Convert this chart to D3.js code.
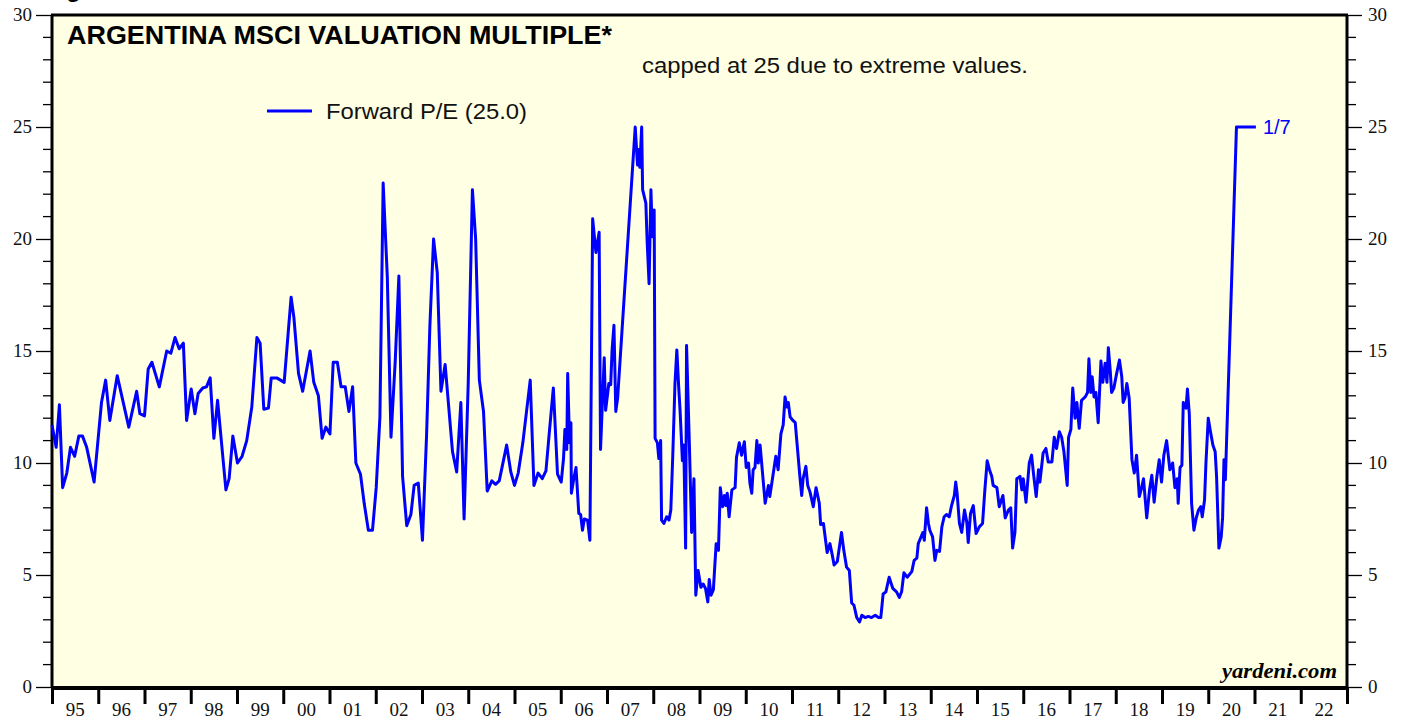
<!DOCTYPE html>
<html>
<head>
<meta charset="utf-8">
<script src="https://cdn.jsdelivr.net/npm/d3@7"></script>
<style>
  body { margin: 0; background: #fff; }
  svg { display: block; }
</style>
</head>
<body>
<svg id="chart" width="1407" height="719"></svg>
<script>
// decimal year of each reading
var dates = [
  1995.00, 1995.09, 1995.16, 1995.23, 1995.32, 1995.40, 1995.49, 1995.58, 1995.66, 1995.75,
  1995.91, 1996.07, 1996.16, 1996.25, 1996.41, 1996.66, 1996.83, 1996.90, 1997.00, 1997.08,
  1997.16, 1997.32, 1997.48, 1997.57, 1997.66, 1997.75, 1997.84, 1997.91, 1998.01, 1998.09,
  1998.16, 1998.26, 1998.34, 1998.42, 1998.50, 1998.58, 1998.76, 1998.83, 1998.91, 1999.01,
  1999.11, 1999.21, 1999.32, 1999.43, 1999.50, 1999.58, 1999.68, 1999.74, 1999.86, 2000.02,
  2000.11, 2000.17, 2000.23, 2000.33, 2000.42, 2000.58, 2000.66, 2000.76, 2000.84, 2000.92,
  2001.01, 2001.08, 2001.17, 2001.25, 2001.34, 2001.42, 2001.50, 2001.57, 2001.67, 2001.75,
  2001.84, 2001.93, 2002.01, 2002.09, 2002.16, 2002.25, 2002.33, 2002.42, 2002.50, 2002.58,
  2002.67, 2002.76, 2002.83, 2002.92, 2003.01, 2003.10, 2003.17, 2003.25, 2003.33, 2003.41,
  2003.50, 2003.66, 2003.75, 2003.84, 2003.91, 2004.00, 2004.09, 2004.16, 2004.24, 2004.33,
  2004.41, 2004.51, 2004.59, 2004.67, 2004.83, 2004.92, 2005.00, 2005.08, 2005.18, 2005.34,
  2005.42, 2005.51, 2005.60, 2005.68, 2005.75, 2005.84, 2005.93, 2006.01, 2006.06, 2006.09,
  2006.13, 2006.15, 2006.19, 2006.22, 2006.23, 2006.29, 2006.33, 2006.39, 2006.43, 2006.47,
  2006.51, 2006.58, 2006.63, 2006.69, 2006.76, 2006.83, 2006.86, 2006.94, 2006.97, 2007.04,
  2007.08, 2007.11, 2007.15, 2007.19, 2007.23, 2007.61, 2007.66, 2007.69, 2007.71, 2007.75,
  2007.77, 2007.84, 2007.87, 2007.91, 2007.95, 2007.98, 2008.02, 2008.04, 2008.09, 2008.12,
  2008.16, 2008.18, 2008.23, 2008.29, 2008.34, 2008.38, 2008.42, 2008.47, 2008.51, 2008.55,
  2008.58, 2008.63, 2008.66, 2008.70, 2008.72, 2008.78, 2008.83, 2008.88, 2008.92, 2008.97,
  2009.03, 2009.08, 2009.13, 2009.18, 2009.21, 2009.25, 2009.30, 2009.36, 2009.41, 2009.45,
  2009.50, 2009.54, 2009.57, 2009.60, 2009.64, 2009.70, 2009.77, 2009.80, 2009.86, 2009.91,
  2009.97, 2010.01, 2010.06, 2010.09, 2010.13, 2010.16, 2010.20, 2010.24, 2010.27, 2010.31,
  2010.42, 2010.49, 2010.52, 2010.65, 2010.70, 2010.76, 2010.81, 2010.85, 2010.89, 2010.92,
  2010.96, 2011.02, 2011.07, 2011.17, 2011.21, 2011.24, 2011.30, 2011.34, 2011.39, 2011.46,
  2011.52, 2011.59, 2011.62, 2011.68, 2011.76, 2011.82, 2011.87, 2011.91, 2011.98, 2012.07,
  2012.12, 2012.18, 2012.24, 2012.29, 2012.34, 2012.40, 2012.46, 2012.51, 2012.58, 2012.65,
  2012.72, 2012.80, 2012.87, 2012.92, 2012.97, 2013.03, 2013.10, 2013.18, 2013.26, 2013.32,
  2013.37, 2013.42, 2013.49, 2013.59, 2013.64, 2013.70, 2013.73, 2013.78, 2013.83, 2013.86,
  2013.91, 2013.95, 2013.98, 2014.04, 2014.09, 2014.13, 2014.19, 2014.24, 2014.29, 2014.34,
  2014.40, 2014.45, 2014.51, 2014.54, 2014.57, 2014.62, 2014.67, 2014.73, 2014.78, 2014.81,
  2014.86, 2014.92, 2014.98, 2015.05, 2015.12, 2015.17, 2015.22, 2015.27, 2015.32, 2015.35,
  2015.43, 2015.48, 2015.56, 2015.61, 2015.68, 2015.73, 2015.77, 2015.82, 2015.86, 2015.93,
  2015.97, 2016.00, 2016.06, 2016.13, 2016.18, 2016.22, 2016.28, 2016.33, 2016.36, 2016.43,
  2016.49, 2016.54, 2016.62, 2016.67, 2016.72, 2016.78, 2016.83, 2016.88, 2016.95, 2016.98,
  2017.03, 2017.07, 2017.12, 2017.16, 2017.21, 2017.26, 2017.34, 2017.39, 2017.42, 2017.46,
  2017.49, 2017.53, 2017.57, 2017.62, 2017.68, 2017.72, 2017.77, 2017.81, 2017.84, 2017.88,
  2017.91, 2017.96, 2018.01, 2018.08, 2018.13, 2018.16, 2018.20, 2018.24, 2018.29, 2018.35,
  2018.40, 2018.45, 2018.51, 2018.56, 2018.60, 2018.67, 2018.73, 2018.78, 2018.83, 2018.89,
  2018.94, 2018.99, 2019.04, 2019.10, 2019.17, 2019.23, 2019.28, 2019.33, 2019.35, 2019.39,
  2019.43, 2019.46, 2019.52, 2019.55, 2019.59, 2019.64, 2019.69, 2019.74, 2019.79, 2019.84,
  2019.87, 2019.92, 2019.95, 2020.00, 2020.04, 2020.10, 2020.15, 2020.18, 2020.23, 2020.28,
  2020.31, 2020.34, 2020.37, 2020.61, 2021.03
];

// forward P/E, capped at 25
var forwardPE = [
  11.7, 10.7, 12.6, 8.9, 9.55, 10.7, 10.3, 11.2, 11.2, 10.7,
  9.15, 12.7, 13.7, 11.9, 13.9, 11.6, 13.2, 12.2, 12.1, 14.2,
  14.5, 13.4, 15.0, 14.9, 15.6, 15.1, 15.35, 11.9, 13.3, 12.2,
  13.1, 13.35, 13.4, 13.8, 11.1, 12.8, 8.8, 9.3, 11.2, 10.0,
  10.3, 11.0, 12.5, 15.6, 15.35, 12.4, 12.45, 13.8, 13.8, 13.6,
  15.9, 17.4, 16.5, 14.0, 13.2, 15.0, 13.6, 13.0, 11.1, 11.6,
  11.3, 14.5, 14.5, 13.4, 13.4, 12.3, 13.4, 10.0, 9.5, 8.2,
  7.0, 7.0, 8.9, 12.05, 22.5, 18.3, 11.15, 14.5, 18.35, 9.4,
  7.2, 7.7, 9.0, 9.1, 6.55, 11.3, 16.1, 20.0, 18.5, 13.2,
  14.4, 10.5, 9.6, 12.7, 7.5, 13.6, 22.2, 20.0, 13.7, 12.3,
  8.75, 9.2, 9.05, 9.2, 10.8, 9.6, 9.0, 9.55, 10.9, 13.7,
  9.0, 9.55, 9.3, 9.65, 11.3, 13.35, 9.5, 9.15, 10.2, 11.5,
  10.6, 14.0, 10.9, 11.8, 8.65, 9.4, 9.8, 7.75, 7.7, 7.0,
  7.5, 7.45, 6.55, 20.9, 19.4, 20.3, 10.6, 14.7, 12.35, 13.55,
  13.5, 15.05, 16.15, 12.3, 12.9, 25.0, 23.3, 24.0, 23.2, 25.0,
  22.2, 21.6, 19.8, 18.0, 22.2, 20.1, 21.3, 11.1, 10.9, 10.2,
  11.0, 7.45, 7.3, 7.6, 7.45, 7.9, 10.2, 13.55, 15.05, 13.4,
  12.35, 10.1, 10.8, 6.2, 15.25, 10.9, 6.9, 9.3, 4.1, 5.2,
  4.45, 4.6, 4.4, 3.8, 4.8, 4.1, 4.35, 6.4, 6.1, 8.9,
  8.05, 8.55, 8.1, 8.65, 7.6, 8.8, 8.9, 10.25, 10.9, 10.35,
  10.95, 9.8, 10.0, 9.1, 8.65, 9.7, 9.8, 11.0, 10.0, 10.8,
  8.2, 9.0, 8.5, 10.3, 9.7, 11.3, 11.7, 12.95, 12.5, 12.7,
  12.05, 11.9, 11.8, 9.4, 8.55, 9.3, 9.85, 9.0, 8.7, 8.05,
  8.9, 8.2, 7.25, 7.3, 6.0, 6.4, 5.9, 5.45, 5.6, 6.9,
  6.1, 5.35, 5.2, 3.75, 3.65, 3.1, 2.9, 3.2, 3.1, 3.15,
  3.1, 3.2, 3.1, 3.1, 4.15, 4.25, 4.9, 4.4, 4.25, 4.0,
  4.25, 5.1, 4.9, 5.15, 5.65, 5.75, 6.4, 6.65, 6.9, 6.55,
  8.0, 7.3, 7.0, 6.7, 5.65, 6.1, 6.05, 7.15, 7.6, 7.7,
  7.6, 8.1, 8.55, 9.15, 8.65, 7.3, 6.9, 7.9, 7.35, 6.45,
  7.75, 8.1, 6.85, 7.15, 7.3, 8.8, 10.1, 9.7, 9.4, 9.0,
  8.9, 8.05, 8.55, 7.55, 7.9, 8.0, 6.2, 6.9, 9.3, 9.4,
  8.8, 9.3, 8.25, 10.0, 10.35, 9.55, 8.5, 9.7, 9.15, 10.45,
  10.65, 10.05, 10.05, 11.15, 10.65, 11.4, 11.15, 10.5, 9.0, 11.15,
  11.5, 13.35, 12.0, 12.7, 11.55, 12.8, 12.95, 13.15, 14.65, 13.15,
  13.85, 12.95, 13.15, 11.8, 14.55, 13.6, 14.45, 13.6, 15.15, 14.15,
  13.15, 13.35, 13.9, 14.6, 13.85, 12.7, 12.9, 13.55, 12.9, 10.15,
  9.55, 10.35, 8.5, 8.9, 9.3, 7.55, 8.8, 9.45, 8.25, 9.4,
  10.15, 9.15, 10.35, 11.0, 9.7, 10.0, 8.9, 9.3, 8.2, 9.8,
  9.9, 12.7, 12.45, 13.3, 12.2, 8.2, 7.0, 7.55, 7.9, 8.05,
  7.6, 8.35, 10.0, 12.0, 11.5, 10.8, 10.5, 9.4, 6.2, 6.7,
  7.55, 10.15, 9.25, 25.0, 25.0
];

var yearLabels = ["95","96","97","98","99","00","01","02","03","04","05","06","07","08",
  "09","10","11","12","13","14","15","16","17","18","19","20","21","22"];
var yTicks = [0, 5, 10, 15, 20, 25, 30];
var lastLabel = "1/7";
var legendLabel = "Forward P/E (25.0)";

var svg = d3.select("#chart");
var margin = { left: 52, right: 60, top: 15, bottom: 32 };
var width = 1407 - margin.left - margin.right;
var height = 719 - margin.top - margin.bottom;

var x = d3.scaleLinear().domain([1995, 2023]).range([margin.left, margin.left + width]);
var y = d3.scaleLinear().domain([0, 30]).range([margin.top + height, margin.top]);

var serif = "'Liberation Serif', 'Times New Roman', serif";
var sans = "'Liberation Sans', Arial, sans-serif";

// plot background
svg.append("rect")
  .attr("x", x(1995)).attr("y", y(30))
  .attr("width", x(2023) - x(1995)).attr("height", y(0) - y(30))
  .attr("fill", "#ffffe3");

// cut-off header above plot
svg.append("text")
  .attr("x", 45).attr("y", -3)
  .attr("font-family", sans).attr("font-weight", "bold").attr("font-size", 24)
  .text("Figure 1.");

// left axis
var leftAxis = d3.axisLeft(y).tickValues(yTicks).tickSize(16).tickPadding(4).tickFormat(d3.format("d"));
var gl = svg.append("g").attr("transform", "translate(" + x(1995) + ",0)").call(leftAxis);
gl.select(".domain").remove();
gl.selectAll("line").attr("stroke", "#000").attr("stroke-width", 1.3);
gl.selectAll("text").attr("font-family", serif).attr("font-size", 19).attr("fill", "#111").attr("dy", "0.3em");
gl.selectAll(".minor").data(d3.range(0, 31).filter(function (d) { return d % 5 != 0; }))
  .enter().append("line")
  .attr("x1", -9).attr("x2", 0)
  .attr("y1", function (d) { return y(d); }).attr("y2", function (d) { return y(d); })
  .attr("stroke", "#000").attr("stroke-width", 1.3);

// right axis
var rightAxis = d3.axisRight(y).tickValues(yTicks).tickSize(15).tickPadding(6).tickFormat(d3.format("d"));
var gr = svg.append("g").attr("transform", "translate(" + x(2023) + ",0)").call(rightAxis);
gr.select(".domain").remove();
gr.selectAll("line").attr("stroke", "#000").attr("stroke-width", 1.3);
gr.selectAll("text").attr("font-family", serif).attr("font-size", 19).attr("fill", "#111").attr("dy", "0.3em");
gr.selectAll(".minor").data(d3.range(0, 31).filter(function (d) { return d % 5 != 0; }))
  .enter().append("line")
  .attr("x1", 0).attr("x2", 9)
  .attr("y1", function (d) { return y(d); }).attr("y2", function (d) { return y(d); })
  .attr("stroke", "#000").attr("stroke-width", 1.3);

// bottom axis: ticks at year boundaries, labels mid-year
var years = d3.range(1995, 2024);
var xAxis = d3.axisBottom(x).tickValues(years).tickSize(17).tickFormat("");
var gx = svg.append("g").attr("transform", "translate(0," + y(0) + ")").call(xAxis);
gx.select(".domain").remove();
gx.selectAll("line").attr("stroke", "#000").attr("stroke-width", 3);
gx.selectAll(".ylab").data(yearLabels).enter().append("text")
  .attr("x", function (d, i) { return x(1995 + i + 0.5); })
  .attr("y", 29)
  .attr("text-anchor", "middle")
  .attr("font-family", serif).attr("font-size", 19).attr("fill", "#111")
  .text(function (d) { return d; });

// frame
svg.append("line").attr("x1", x(1995) - 1).attr("x2", x(2023) + 1).attr("y1", y(30)).attr("y2", y(30))
  .attr("stroke", "#000").attr("stroke-width", 3);
svg.append("line").attr("x1", x(1995) - 1).attr("x2", x(2023) + 1).attr("y1", y(0) + 1).attr("y2", y(0) + 1)
  .attr("stroke", "#000").attr("stroke-width", 4);
svg.append("line").attr("x1", x(1995)).attr("x2", x(1995)).attr("y1", y(30)).attr("y2", y(0))
  .attr("stroke", "#000").attr("stroke-width", 3);
svg.append("line").attr("x1", x(2023)).attr("x2", x(2023)).attr("y1", y(30)).attr("y2", y(0))
  .attr("stroke", "#000").attr("stroke-width", 3);

// series line
var series = dates.map(function (d, i) { return { t: d, v: forwardPE[i] }; });
var line = d3.line()
  .x(function (d) { return x(d.t); })
  .y(function (d) { return y(d.v); });
svg.append("path")
  .datum(series)
  .attr("d", line)
  .attr("fill", "none")
  .attr("stroke", "#0000ff")
  .attr("stroke-width", 3)
  .attr("stroke-linejoin", "round");

// end label
var last = series[series.length - 1];
svg.append("text")
  .attr("x", x(last.t) + 7).attr("y", y(last.v) + 7)
  .attr("font-family", sans).attr("font-size", 20).attr("fill", "#0000ff")
  .text(lastLabel);

// titles
svg.append("text")
  .attr("x", 67).attr("y", 44)
  .attr("font-family", sans).attr("font-weight", "bold").attr("font-size", 25)
  .attr("textLength", 545).attr("lengthAdjust", "spacingAndGlyphs")
  .text("ARGENTINA MSCI VALUATION MULTIPLE*");
svg.append("text")
  .attr("x", 642).attr("y", 73)
  .attr("font-family", sans).attr("font-size", 22).attr("fill", "#111")
  .attr("textLength", 386).attr("lengthAdjust", "spacingAndGlyphs")
  .text("capped at 25 due to extreme values.");

// legend
svg.append("line").attr("x1", 267).attr("x2", 312).attr("y1", 111).attr("y2", 111)
  .attr("stroke", "#0000ff").attr("stroke-width", 3);
svg.append("text")
  .attr("x", 326).attr("y", 119)
  .attr("font-family", sans).attr("font-size", 22).attr("fill", "#111")
  .attr("textLength", 201).attr("lengthAdjust", "spacingAndGlyphs")
  .text(legendLabel);

// source
svg.append("text")
  .attr("x", 1337).attr("y", 678)
  .attr("text-anchor", "end")
  .attr("font-family", serif).attr("font-weight", "bold").attr("font-style", "italic").attr("font-size", 21)
  .attr("textLength", 115).attr("lengthAdjust", "spacingAndGlyphs")
  .text("yardeni.com");
</script>
</body>
</html>
